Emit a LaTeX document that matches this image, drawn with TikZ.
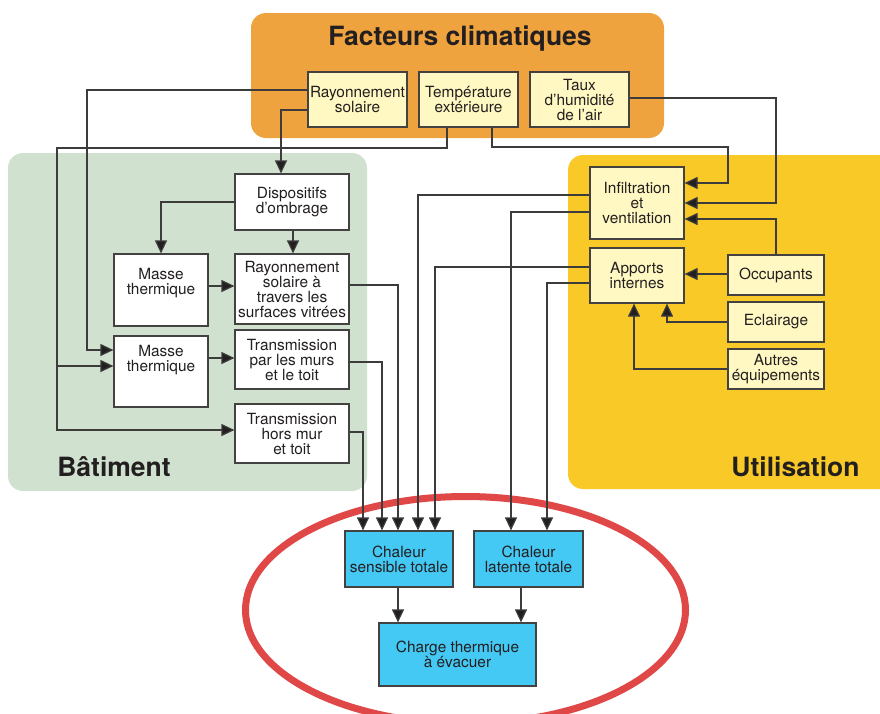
\documentclass[tikz,border=0pt]{standalone}
\usepackage{fontspec}
\setmainfont{TeX Gyre Heros}
\usetikzlibrary{arrows.meta}
\definecolor{panelorange}{HTML}{EFA33E}
\definecolor{panelgreen}{HTML}{D0E1D0}
\definecolor{panelyellow}{HTML}{F9C928}
\definecolor{boxyellow}{HTML}{FFF8C2}
\definecolor{boxblue}{HTML}{44C8F4}
\definecolor{ellred}{HTML}{E04848}
\definecolor{ink}{HTML}{231F20}
\definecolor{wire}{HTML}{3C3C3C}
\begin{document}
\begin{tikzpicture}[x=1pt,y=-1pt,
  panel/.style={rounded corners=15pt, draw=none},
  boxbase/.style={draw=ink!85, line width=1.2pt, inner sep=0pt, align=center, text=ink,
    font=\fontsize{15.4}{15}\selectfont},
  wbox/.style={boxbase, fill=white},
  ybox/.style={boxbase, fill=boxyellow},
  bbox/.style={boxbase, fill=boxblue},
  sz/.style 2 args={minimum width=#1pt, minimum height=#2pt},
  title/.style={font=\fontsize{26.5}{28}\selectfont\bfseries, text=ink, inner sep=0pt},
  conn/.style={draw=wire, line width=1.2pt},
  arr/.style={conn, -{Triangle[length=13pt,width=12pt,fill=ink]}},
  txt/.style={font=\fontsize{15.4}{15}\selectfont, text=ink, align=center, inner sep=0pt}
]
\useasboundingbox (0,0) rectangle (880,713);
\fill[white] (0,0) rectangle (880,713);

% panels
\fill[panel, fill=panelorange] (251,13) rectangle (664,138);
\fill[panel, fill=panelgreen] (8,153) rectangle (367,491);
\fill[panel, fill=panelyellow] (568,155) rectangle (905,489);

\node[title] (tfc) at (460,39) {Facteurs climatiques};
\node[title] (tbat) at (114,467) {Bâtiment};
\node[title] (tuti) at (795.5,467) {Utilisation};

% ellipse
\draw[ellred, line width=7pt] (465.5,610) ellipse [x radius=220pt, y radius=113.5pt];

% boxes
\node[ybox, sz={99}{55}] (rs) at (357.5,99.5) {Rayonnement\\solaire};
\node[ybox, sz={99}{55}] (temp) at (468.5,99.5) {Température\\extérieure};
\node[ybox, sz={99}{55}] (taux) at (579.5,99.5) {Taux\\d’humidité\\de l’air};

\node[wbox, sz={114}{56}] (ombr) at (292,202) {Dispositifs\\d’ombrage};
\node[wbox, sz={94}{72}] (mt1) at (161,290) {};
\node[txt] (mt1t) at (161,283) {Masse\\thermique};
\node[wbox, sz={114}{70}] (ray) at (292,289) {Rayonnement\\solaire à\\travers les\\surfaces vitrées};
\node[wbox, sz={94}{71}] (mt2) at (161,371.5) {};
\node[txt] (mt2t) at (161,360.5) {Masse\\thermique};
\node[wbox, sz={114}{59}] (tpm) at (292,359.5) {Transmission\\par les murs\\et le toit};
\node[wbox, sz={114}{59}] (hors) at (292,433.5) {Transmission\\hors mur\\et toit};

\node[ybox, sz={94}{72}] (inf) at (637,203) {Infiltration\\et\\ventilation};
\node[ybox, sz={94}{55}] (app) at (637,275.5) {Apports\\internes};
\node[ybox, sz={96}{40}] (occ) at (776,275) {Occupants};
\node[ybox, sz={96}{40}] (ecl) at (776,322) {Eclairage};
\node[ybox, sz={96}{40}] (aut) at (776,369) {Autres\\équipements};

\node[bbox, sz={108}{56}] (sens) at (399,559) {Chaleur\\sensible totale};
\node[bbox, sz={109}{56}] (lat) at (528.5,559) {Chaleur\\latente totale};
\node[bbox, sz={157}{63}] (charge) at (457.5,654.5) {Charge thermique\\à évacuer};

% connectors from climate factors
\draw[arr] (rs.west |- 0,90) -| (87,350) -- (mt2.west |- 0,350);
\draw[arr] (rs.west |- 0,110) -| (ombr.north -| 281,0);
\draw[arr] (temp.south -| 447,0) |- (57,148) |- (hors.west |- 0,430);
\draw[arr] (57,366) -- (mt2.west |- 0,366);
\draw[arr] (temp.south -| 492,0) |- (728,147) |- (inf.east |- 0,183);
\draw[arr] (taux.east |- 0,98) -| (776,203) -- (inf.east |- 0,203);

% utilisation
\draw[arr] (occ.north) |- (inf.east |- 0,219);
\draw[arr] (occ.west |- 0,274) -- (app.east |- 0,274);
\draw[arr] (ecl.west) -| (app.south -| 667,0);
\draw[arr] (aut.west) -| (app.south -| 634,0);

% to totals
\draw[arr] (inf.west |- 0,195) -| (sens.north -| 418,0);
\draw[arr] (inf.west |- 0,212) -| (lat.north -| 511,0);
\draw[arr] (app.west |- 0,267) -| (sens.north -| 435,0);
\draw[arr] (app.west |- 0,283) -| (lat.north -| 547,0);
\draw[arr] (ray.east |- 0,285) -| (sens.north -| 398,0);
\draw[arr] (tpm.east |- 0,362) -| (sens.north -| 382,0);
\draw[arr] (hors.east |- 0,432) -| (sens.north -| 363,0);

% inside building
\draw[arr] (ombr.west) -| (mt1.north -| 161,0);
\draw[arr] (ombr.south -| 293,0) -- (ray.north -| 293,0);
\draw[arr] (mt1.east |- 0,286) -- (ray.west |- 0,286);
\draw[arr] (mt2.east |- 0,358) -- (tpm.west |- 0,358);

% final
\draw[arr] (sens.south -| 398,0) -- (charge.north -| 398,0);
\draw[arr] (lat.south -| 521,0) -- (charge.north -| 521,0);
\end{tikzpicture}
\end{document}
